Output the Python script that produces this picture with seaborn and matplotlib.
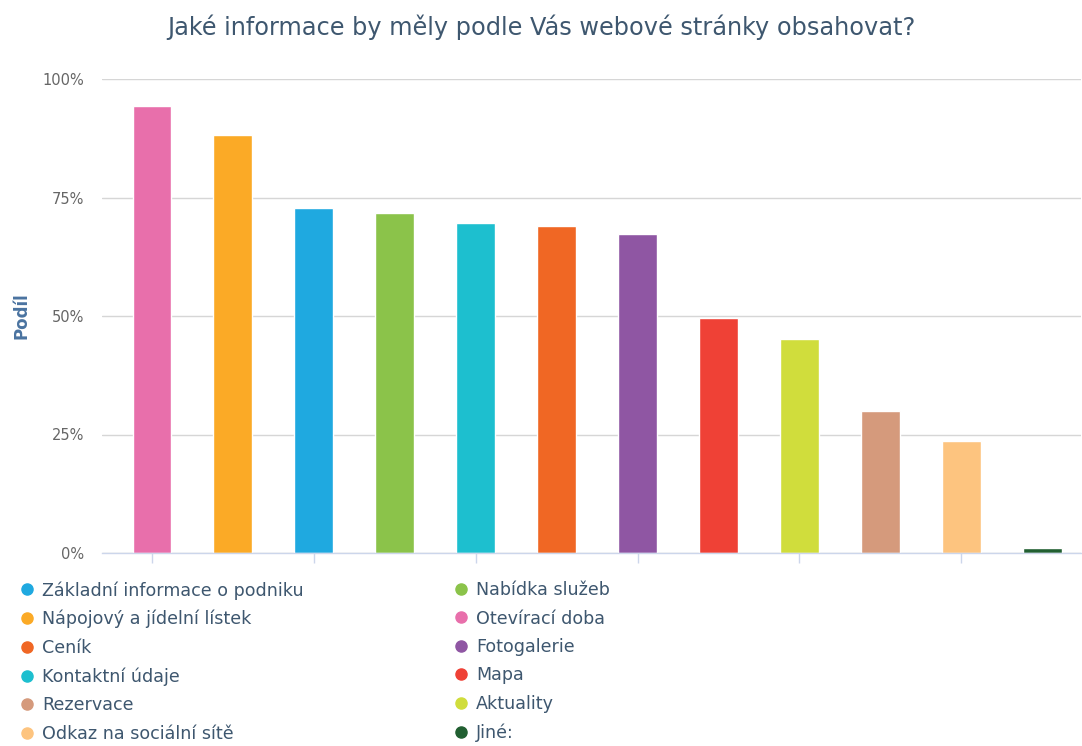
import matplotlib
matplotlib.use("Agg")
import matplotlib.pyplot as plt
from matplotlib.lines import Line2D
from matplotlib.ticker import FuncFormatter
import seaborn as sns
import pandas as pd

# ---- data ----
legend_labels = [
    "Základní informace o podniku", "Nabídka služeb",
    "Nápojový a jídelní lístek", "Otevírací doba",
    "Ceník", "Fotogalerie",
    "Kontaktní údaje", "Mapa",
    "Rezervace", "Aktuality",
    "Odkaz na sociální sítě", "Jiné:",
]
legend_colors = [
    "#1fa9e0", "#8bc34a",
    "#fbaa26", "#e86fab",
    "#f06724", "#8f56a3",
    "#1dbfcf", "#ef4136",
    "#d59a7c", "#d0dd3c",
    "#fdc47f", "#215f31",
]
values = [72.8, 71.7, 88.2, 94.4, 69.0, 67.4, 69.7, 49.5, 30.0, 45.1, 23.6, 1.0]

title = "Jaké informace by měly podle Vás webové stránky obsahovat?"
ylabel = "Podíl"
yticks = [0, 25, 50, 75, 100]

# ---- build ----
df = pd.DataFrame({"cat": legend_labels, "val": values})
order = df.sort_values("val", ascending=False)["cat"].tolist()
pal = dict(zip(legend_labels, legend_colors))

sns.set_theme(style="white")
plt.rcParams["font.family"] = ["DejaVu Sans"]

W, H = 1082, 746
fig = plt.figure(figsize=(W / 100, H / 100), dpi=100)
ax = fig.add_axes([102 / W, 1 - 553 / H, (1081 - 102) / W, (553 - 79) / H])

sns.barplot(data=df, x="cat", y="val", hue="cat", order=order, hue_order=order,
            palette=pal, saturation=1, dodge=False, width=0.48, legend=False,
            edgecolor="white", linewidth=1, ax=ax, zorder=3)

ax.set_xlim(-0.617, 11.48)
ax.set_ylim(0, 100)
ax.set_yticks(yticks)
ax.yaxis.set_major_formatter(FuncFormatter(lambda v, p: f"{int(v)}%"))
ax.set_xticks([0, 2, 4, 6, 8, 10])
ax.set_xticklabels([])
ax.set_xlabel("")
ax.set_ylabel("")
ax.tick_params(axis="y", length=0, pad=13, labelsize=10.5, labelcolor="#666666")
ax.tick_params(axis="x", length=7, width=1, color="#ccd6eb", direction="out", bottom=True)
ax.grid(axis="y", color="#d6d6d6", linewidth=1, zorder=0)
ax.set_axisbelow(True)
for s in ["top", "right", "left"]:
    ax.spines[s].set_visible(False)
ax.spines["bottom"].set_color("#ccd6eb")
ax.spines["bottom"].set_linewidth(1)
ax.spines["bottom"].set_zorder(4)

fig.text(21 / W, 1 - 316 / H, ylabel, rotation=90, ha="center", va="center",
         fontsize=12, fontweight="bold", color="#4a73a0")
fig.text(0.5, 1 - 27 / H, title, ha="center", va="center", fontsize=17.3, color="#3e576f")

# legend: two columns in row-major order
def handles_for(idx):
    return [Line2D([0], [0], marker="o", linestyle="", markersize=8,
                   markerfacecolor=legend_colors[i], markeredgecolor=legend_colors[i])
            for i in idx]

left_idx = list(range(0, 12, 2))
right_idx = list(range(1, 12, 2))
for idx, x0 in [(left_idx, 20), (right_idx, 454)]:
    fig.legend(handles_for(idx), [legend_labels[i] for i in idx],
               loc="upper left", bbox_to_anchor=(x0 / W, 1 - 581 / H),
               frameon=False, fontsize=12.6, labelcolor="#3e576f",
               handlelength=0.8, handletextpad=0.46, labelspacing=0.6,
               borderaxespad=0, borderpad=0)

fig.savefig("out.png", dpi=100)
